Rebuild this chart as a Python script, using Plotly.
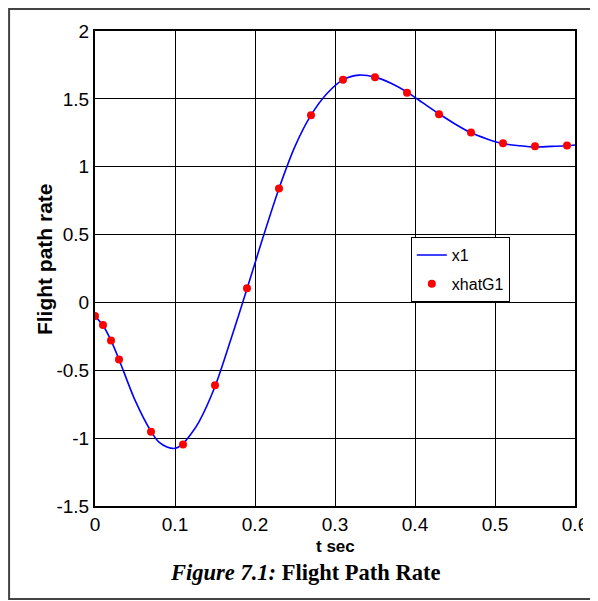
import plotly.graph_objects as go

# x1 curve
t_line = [0, 0.01, 0.02, 0.03, 0.05, 0.07, 0.08, 0.09, 0.10, 0.11, 0.12, 0.13, 0.15, 0.17,
          0.19, 0.21, 0.23, 0.25, 0.27, 0.29, 0.31, 0.33, 0.35, 0.37, 0.39, 0.41, 0.43,
          0.45, 0.47, 0.49, 0.51, 0.53, 0.55, 0.57, 0.59, 0.60]
x1 = [-0.10, -0.17, -0.28, -0.42, -0.72, -0.95, -1.03, -1.065, -1.075, -1.04, -0.97, -0.88,
      -0.62, -0.27, 0.10, 0.48, 0.84, 1.15, 1.38, 1.54, 1.64, 1.675, 1.66, 1.615, 1.55,
      1.47, 1.39, 1.315, 1.25, 1.205, 1.17, 1.155, 1.145, 1.15, 1.155, 1.16]

# xhatG1 estimates
t_pts = [0, 0.01, 0.02, 0.03, 0.07, 0.11, 0.15, 0.19, 0.23, 0.27, 0.31, 0.35, 0.39, 0.43,
         0.47, 0.51, 0.55, 0.59]
xhat = [-0.10, -0.167, -0.28, -0.42, -0.953, -1.047, -0.61, 0.105, 0.84, 1.38, 1.64, 1.66,
        1.545, 1.386, 1.253, 1.172, 1.15, 1.157]

x_ticks = [0, 0.1, 0.2, 0.3, 0.4, 0.5, 0.6]
x_tick_labels = ["0", "0.1", "0.2", "0.3", "0.4", "0.5", "0.6"]
y_ticks = [-1.5, -1, -0.5, 0, 0.5, 1, 1.5, 2]
y_tick_labels = ["-1.5", "-1", "-0.5", "0", "0.5", "1", "1.5", "2"]

TICK_FONT = "Liberation Sans Narrow, Arial Narrow, Liberation Sans, Arial"
SANS = "Liberation Sans, Arial"
SERIF = "Liberation Serif, Times New Roman"

fig = go.Figure()
fig.add_trace(go.Scatter(x=t_line, y=x1, mode="lines", name="x1",
                         line=dict(color="#0000ff", width=1.6, shape="spline", smoothing=0.8),
                         legendgroup="a"))
fig.add_trace(go.Scatter(x=t_pts, y=xhat, mode="markers", name="xhatG1",
                         marker=dict(color="#ff0000", size=8, line=dict(width=0)),
                         legendgroup="b"))

axis_common = dict(showgrid=True, gridcolor="black", gridwidth=1.4, zeroline=False,
                   showline=True, linecolor="black", linewidth=2, mirror=True,
                   ticks="", automargin=False,
                   tickfont=dict(family=TICK_FONT, size=19, color="black"))

fig.update_xaxes(range=[0, 0.6], tickvals=x_ticks, ticktext=x_tick_labels, **axis_common)
fig.update_yaxes(range=[-1.5, 2], tickvals=y_ticks, ticktext=y_tick_labels, **axis_common)

# page body adds an 8px margin, so the figure is laid out 8px up/left of the target
fig.update_layout(
    width=590, height=593,
    margin=dict(l=87, r=23, t=23, b=95, autoexpand=False),
    paper_bgcolor="white", plot_bgcolor="white",
    showlegend=True,
    legend=dict(x=0.658, y=0.566, xanchor="left", yanchor="top",
                bgcolor="white", bordercolor="black", borderwidth=1,
                font=dict(family=SANS, size=16, color="black"),
                tracegroupgap=5, traceorder="grouped", itemwidth=30),
    shapes=[
        dict(type="rect", xref="paper", yref="paper",
             x0=-0.179, x1=1.1, y0=-0.1958, y1=1.0463,
             line=dict(color="#444444", width=2), fillcolor="rgba(0,0,0,0)", layer="above"),
        dict(type="rect", xref="paper", yref="paper",
             x0=(575 - 87) / 480, x1=(589 - 87) / 480, y0=(498 - 530) / 475, y1=(498 - 501) / 475,
             line=dict(width=0), fillcolor="white", layer="above"),
    ],
    annotations=[
        dict(xref="paper", yref="paper", x=0.501, y=-0.0863, xanchor="center", yanchor="middle",
             showarrow=False, text="<b>t sec</b>",
             font=dict(family=TICK_FONT, size=17, color="black")),
        dict(xref="paper", yref="paper", x=-0.106, y=0.52, xanchor="center", yanchor="middle",
             showarrow=False, text="<b>Flight path rate</b>", textangle=-90,
             font=dict(family=SANS, size=21, color="black")),
        dict(xref="paper", yref="paper", x=0.4375, y=-0.1395, xanchor="center", yanchor="middle",
             showarrow=False, text="<b><i>Figure 7.1:</i> Flight Path Rate</b>",
             font=dict(family=SERIF, size=22.5, color="black")),
    ],
)

fig.write_html("out.html")
